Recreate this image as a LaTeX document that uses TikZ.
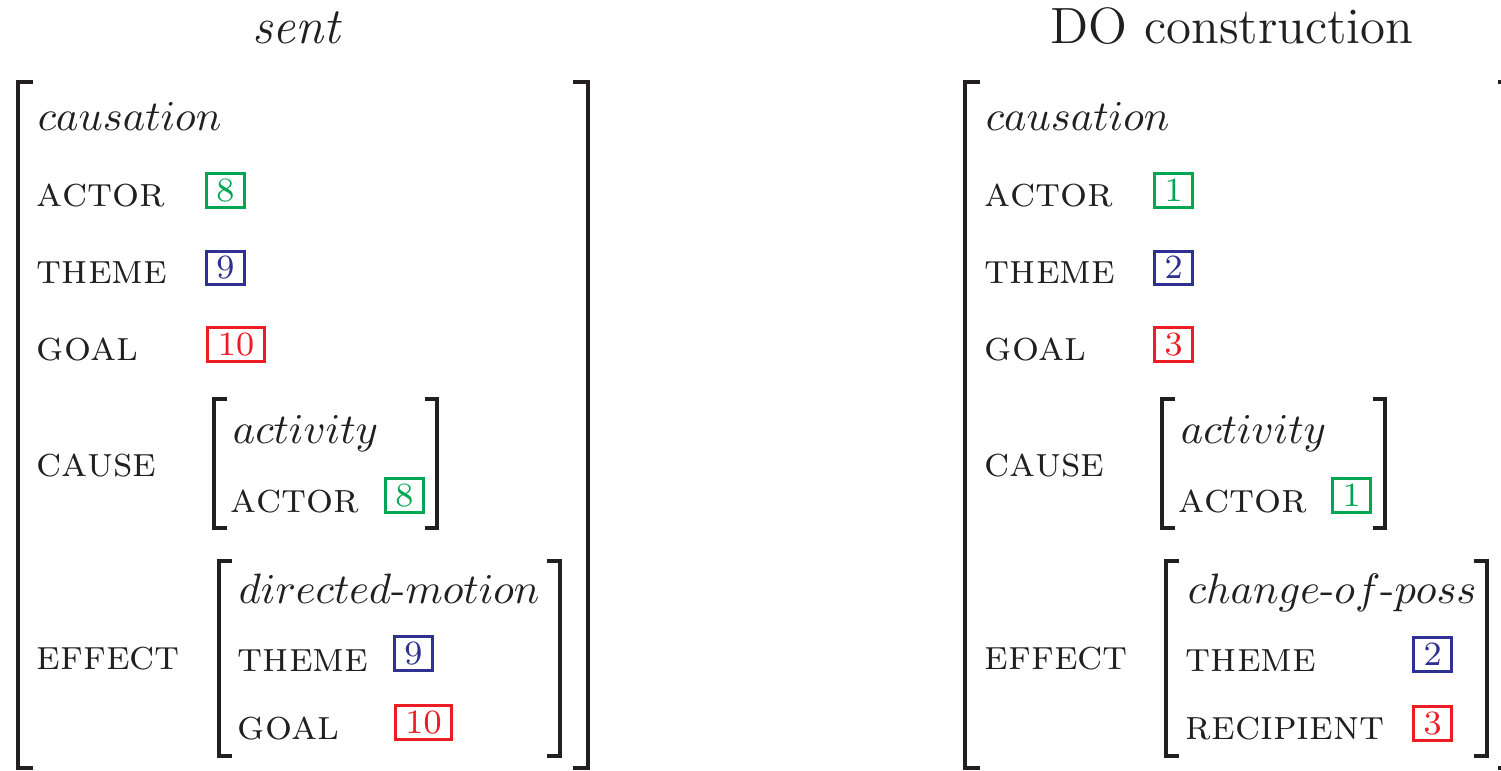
\documentclass[tikz,border=0pt]{standalone}
\definecolor{tagGreen}{RGB}{0,166,81}
\definecolor{tagBlue}{RGB}{46,49,146}
\definecolor{tagRed}{RGB}{237,28,36}
\definecolor{ink}{RGB}{35,31,32}
\begin{document}
\begin{tikzpicture}[x=0.2353pt,y=-0.2353pt,
    every node/.style={text=ink,inner sep=0pt},
    attr/.style={anchor=base west,font=\scshape},
    typ/.style={anchor=base west},
    tag/.style={draw,line width=0.7pt,font=\footnotesize,inner xsep=2.45pt,inner ysep=1.4pt,
        text height=5.15pt,text depth=0pt,minimum width=8pt},
    brk/.style={draw=ink,line width=0.9pt}]
    \useasboundingbox (0,0) rectangle (1501,770);
            % left: sent
            \node [anchor=base,font=\large\itshape] (sentT) at (296,43) {sent};
            \node [typ] (sCaus) at (37,130) {$causation$};
            \node [attr] (sActor) at (36,206) {actor};
            \node [tag,draw=tagGreen,text=tagGreen] (sTagA) at (225.5,190.5) {8};
            \node [attr] (sTheme) at (36,283) {theme};
            \node [tag,draw=tagBlue,text=tagBlue] (sTagB) at (225.5,268) {9};
            \node [attr] (sGoal) at (36,360) {goal};
            \node [tag,draw=tagRed,text=tagRed] (sTagC) at (236,344.5) {10};
            \node [attr] (sCause) at (36,476) {cause};
            \node [typ] (sAct) at (232,443) {$activity$};
            \node [attr] (sActorB) at (230,512) {actor};
            \node [tag,draw=tagGreen,text=tagGreen] (sTagD) at (404.5,495.5) {8};
            \node [attr] (sEffect) at (36,669) {effect};
            \node [typ] (sDir) at (238,603) {$directed\mbox{-}motion$};
            \node [attr] (sThemeB) at (237,671) {theme};
            \node [tag,draw=tagBlue,text=tagBlue] (sTagE) at (413.5,653.5) {9};
            \node [attr] (sGoalB) at (237,739) {goal};
            \node [tag,draw=tagRed,text=tagRed] (sTagF) at (423.5,722.5) {10};
            \draw [brk] (33,82) -- (18,82) -- (18,768) -- (33,768);
            \draw [brk] (573,82) -- (588,82) -- (588,768) -- (573,768);
            \draw [brk] (227,399) -- (214,399) -- (214,528) -- (227,528);
            \draw [brk] (425,399) -- (437,399) -- (437,528) -- (425,528);
            \draw [brk] (232,561) -- (219,561) -- (219,756) -- (232,756);
            \draw [brk] (547,561) -- (560,561) -- (560,756) -- (547,756);
            % right: DO construction
            \node [anchor=base,font=\large] (doT) at (1232,43) {DO construction};
            \node [typ] (dCaus) at (985,130) {$causation$};
            \node [attr] (dActor) at (984,206) {actor};
            \node [tag,draw=tagGreen,text=tagGreen] (dTagA) at (1173.5,190.5) {1};
            \node [attr] (dTheme) at (984,283) {theme};
            \node [tag,draw=tagBlue,text=tagBlue] (dTagB) at (1173.5,268) {2};
            \node [attr] (dGoal) at (984,360) {goal};
            \node [tag,draw=tagRed,text=tagRed] (dTagC) at (1173.5,344.5) {3};
            \node [attr] (dCause) at (984,476) {cause};
            \node [typ] (dAct) at (1180,443) {$activity$};
            \node [attr] (dActorB) at (1178,512) {actor};
            \node [tag,draw=tagGreen,text=tagGreen] (dTagD) at (1351.5,495.5) {1};
            \node [attr] (dEffect) at (984,669) {effect};
            \node [typ] (dPoss) at (1187,603) {$change\mbox{-}of\mbox{-}poss$};
            \node [attr] (dThemeB) at (1185,671) {theme};
            \node [tag,draw=tagBlue,text=tagBlue] (dTagE) at (1432.5,654.5) {2};
            \node [attr] (dRecip) at (1185,739) {recipient};
            \node [tag,draw=tagRed,text=tagRed] (dTagF) at (1432.5,723.5) {3};
            \draw [brk] (980,82) -- (965,82) -- (965,768) -- (980,768);
            \draw [brk] (1498,82) -- (1513,82) -- (1513,768) -- (1498,768);
            \draw [brk] (1175,399) -- (1162,399) -- (1162,528) -- (1175,528);
            \draw [brk] (1373,399) -- (1385,399) -- (1385,528) -- (1373,528);
            \draw [brk] (1179,561) -- (1166,561) -- (1166,756) -- (1179,756);
            \draw [brk] (1474,561) -- (1487,561) -- (1487,756) -- (1474,756);
\end{tikzpicture}
\end{document}
